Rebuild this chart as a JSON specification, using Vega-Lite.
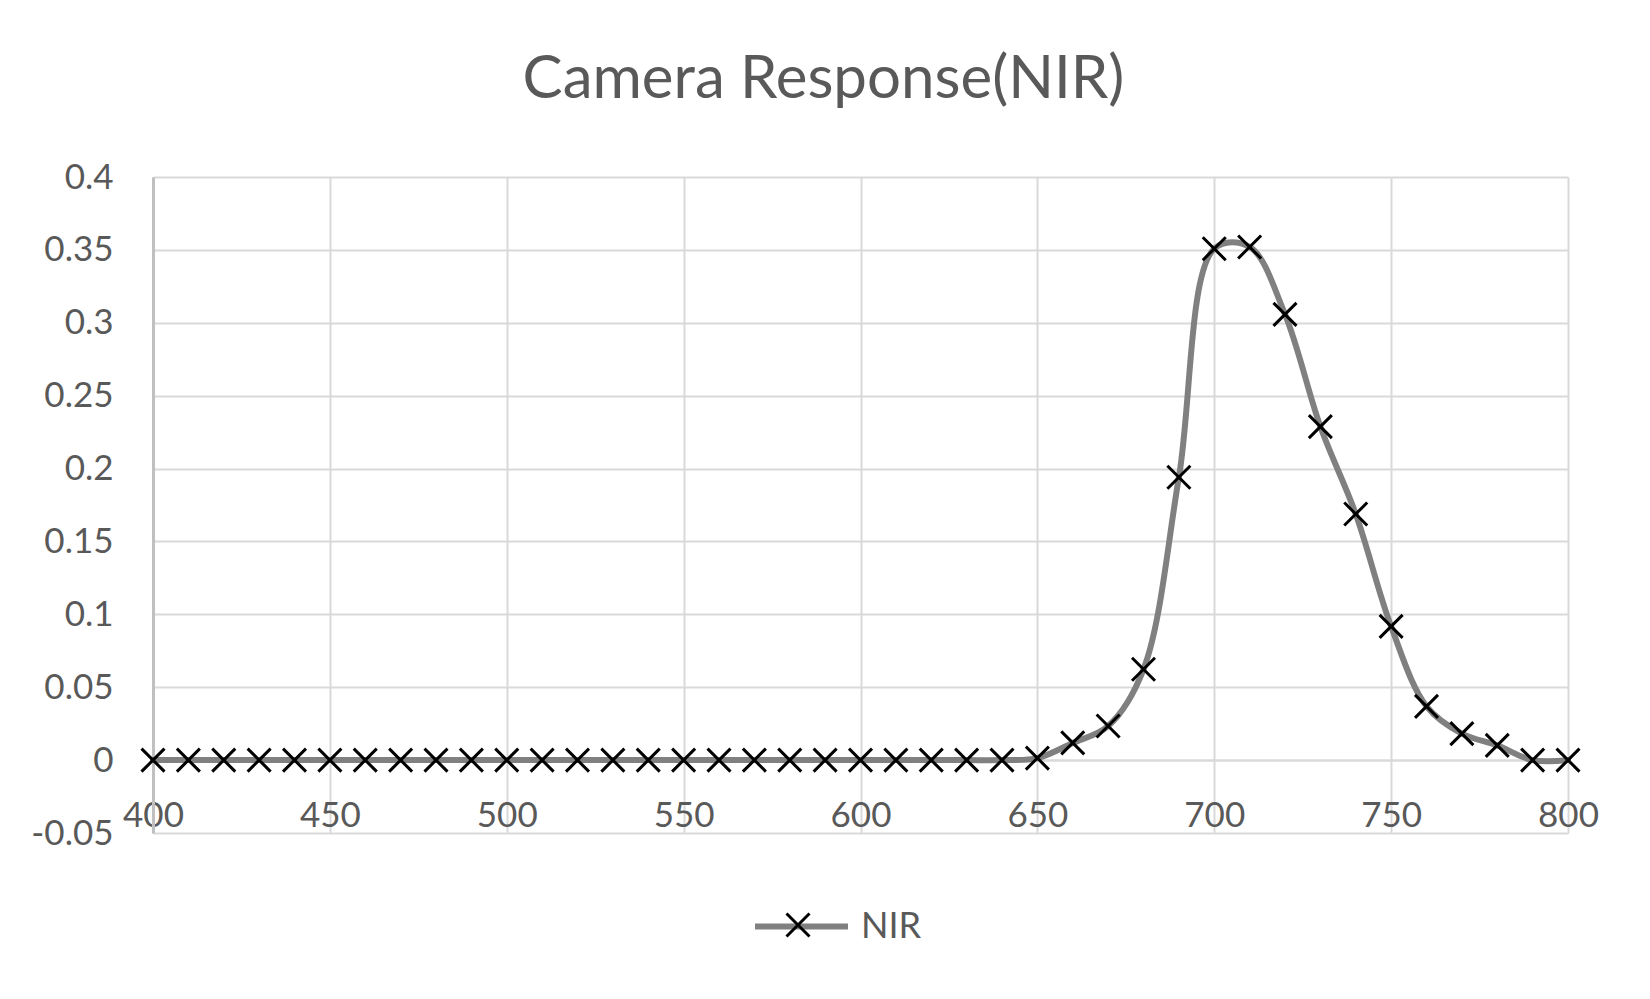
{
  "$schema": "https://vega.github.io/schema/vega-lite/v6.json",
  "autosize": "none",
  "width": 1415,
  "height": 656,
  "padding": {"left": 153, "top": 177, "right": 82, "bottom": 166},
  "background": "white",
  "title": {
    "text": "Camera Response(NIR)",
    "anchor": "middle",
    "frame": "group",
    "dx": -37,
    "offset": 49,
    "font": "Lato",
    "fontSize": 60,
    "fontWeight": "normal",
    "color": "#595959"
  },
  "data": {
    "values": [
      {"wavelength": 400, "value": 0}, {"wavelength": 410, "value": 0},
      {"wavelength": 420, "value": 0}, {"wavelength": 430, "value": 0},
      {"wavelength": 440, "value": 0}, {"wavelength": 450, "value": 0},
      {"wavelength": 460, "value": 0}, {"wavelength": 470, "value": 0},
      {"wavelength": 480, "value": 0}, {"wavelength": 490, "value": 0},
      {"wavelength": 500, "value": 0}, {"wavelength": 510, "value": 0},
      {"wavelength": 520, "value": 0}, {"wavelength": 530, "value": 0},
      {"wavelength": 540, "value": 0}, {"wavelength": 550, "value": 0},
      {"wavelength": 560, "value": 0}, {"wavelength": 570, "value": 0},
      {"wavelength": 580, "value": 0}, {"wavelength": 590, "value": 0},
      {"wavelength": 600, "value": 0}, {"wavelength": 610, "value": 0},
      {"wavelength": 620, "value": 0}, {"wavelength": 630, "value": 0},
      {"wavelength": 640, "value": 0}, {"wavelength": 650, "value": 0.0014},
      {"wavelength": 660, "value": 0.0118}, {"wavelength": 670, "value": 0.0234},
      {"wavelength": 680, "value": 0.0623}, {"wavelength": 690, "value": 0.194},
      {"wavelength": 700, "value": 0.3508}, {"wavelength": 710, "value": 0.352},
      {"wavelength": 720, "value": 0.3058}, {"wavelength": 730, "value": 0.2288},
      {"wavelength": 740, "value": 0.1688}, {"wavelength": 750, "value": 0.0917},
      {"wavelength": 760, "value": 0.0369}, {"wavelength": 770, "value": 0.0182},
      {"wavelength": 780, "value": 0.0101}, {"wavelength": 790, "value": 0},
      {"wavelength": 800, "value": 0}
    ]
  },
  "encoding": {
    "x": {
      "field": "wavelength",
      "type": "quantitative",
      "scale": {"domain": [400, 800], "nice": false, "zero": false},
      "axis": {
        "title": null,
        "values": [400, 450, 500, 550, 600, 650, 700, 750, 800],
        "offset": -73,
        "ticks": false,
        "domainColor": "#d9d9d9",
        "domainWidth": 2,
        "labelPadding": 38,
        "labelFlush": false
      }
    },
    "y": {
      "field": "value",
      "type": "quantitative",
      "scale": {"domain": [-0.05, 0.4], "nice": false, "zero": false},
      "axis": {
        "title": null,
        "values": [-0.05, 0, 0.05, 0.1, 0.15, 0.2, 0.25, 0.3, 0.35, 0.4],
        "labelExpr": "replace(format(datum.value, '~g'), '\u2212', '-')",
        "ticks": false,
        "domainColor": "#c0c0c0",
        "domainWidth": 3,
        "labelPadding": 40
      }
    }
  },
  "layer": [
    {
      "mark": {"type": "line", "interpolate": "catmull-rom", "strokeWidth": 6, "strokeCap": "round"},
      "encoding": {
        "color": {
          "datum": "NIR",
          "scale": {"range": ["#808080"]},
          "legend": {
            "title": null,
            "orient": "none",
            "legendX": 599,
            "legendY": 700,
            "symbolType": "stroke",
            "symbolSize": 8649,
            "symbolStrokeWidth": 6,
            "symbolStrokeColor": "#808080",
            "labelOffset": 10,
            "labelFontSize": 36,
            "labelFont": "Lato",
            "labelColor": "#595959"
          }
        }
      }
    },
    {
      "mark": {"type": "point", "filled": false, "stroke": "black", "strokeWidth": 3, "size": 529, "opacity": 1},
      "encoding": {
        "shape": {
          "datum": "marker",
          "scale": {"range": ["M-1,-1L1,1M-1,1L1,-1"]},
          "legend": {
            "title": null,
            "orient": "none",
            "legendX": 632,
            "legendY": 735,
            "symbolSize": 529,
            "symbolStrokeColor": "black",
            "symbolStrokeWidth": 3,
            "labelExpr": "''",
            "labelFontSize": 1
          }
        }
      }
    }
  ],
  "config": {
    "view": {"stroke": null},
    "axis": {
      "grid": true,
      "gridColor": "#d9d9d9",
      "gridWidth": 2,
      "labelFont": "Lato",
      "labelFontSize": 35,
      "labelColor": "#595959"
    }
  }
}
